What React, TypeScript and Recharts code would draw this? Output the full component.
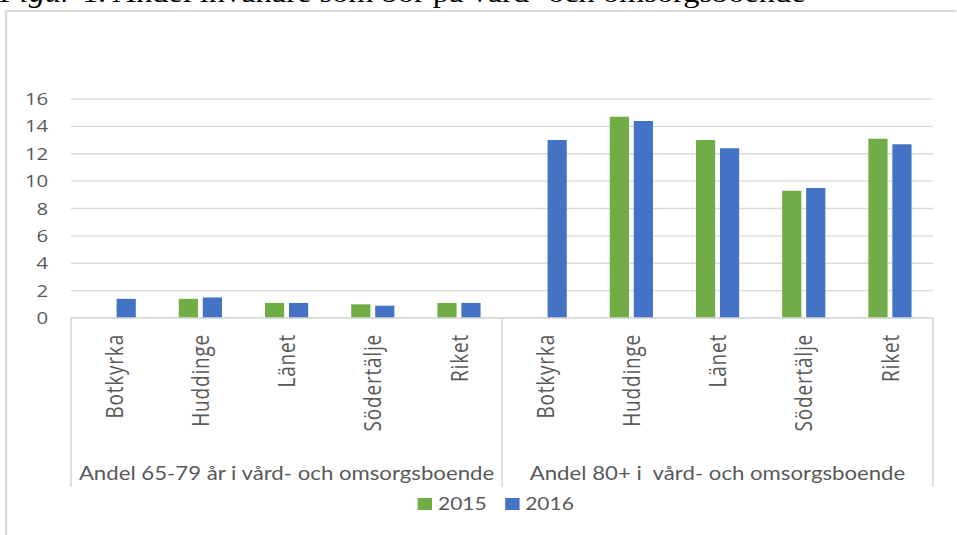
import React from "react";
import { BarChart, Bar, XAxis, YAxis, CartesianGrid, Legend } from "recharts";

// regions per group and the two groups
const categories = ["Botkyrka", "Huddinge", "Länet", "Södertälje", "Riket"];
const groups = [
  "Andel 65-79 år i vård- och omsorgsboende",
  "Andel 80+ i  vård- och omsorgsboende",
];
const values2015 = [null, 1.4, 1.1, 1.0, 1.1, null, 14.7, 13.0, 9.3, 13.1];
const values2016 = [1.4, 1.5, 1.1, 0.9, 1.1, 13.0, 14.4, 12.4, 9.5, 12.7];
const yTicks = [0, 2, 4, 6, 8, 10, 12, 14, 16];

const rows = values2016.map((v, i) => ({
  name: categories[i % categories.length],
  group: groups[Math.floor(i / categories.length)],
  y2015: values2015[i],
  y2016: v,
}));

const GREY = "#595959";
const LINE = "#d9d9d9";
const STRETCH = 1.2;

function CategoryTick(props: any) {
  const { x, y, payload, index } = props;
  const half = payload?.offset ?? 0;
  const n = categories.length;
  const last = rows.length - 1;
  return (
    <g>
      <text
        transform={`translate(${x},${y + 16}) rotate(-90)`}
        textAnchor="end"
        dominantBaseline="central"
        fill={GREY}
        fontSize={19}
        letterSpacing={0.8}
        fontFamily="'Open Sans', sans-serif"
      >
        {payload.value}
      </text>
      {index % n === 0 && (
        <line x1={x - half} x2={x - half} y1={y} y2={y + 169} stroke={LINE} strokeWidth={1.4} />
      )}
      {index === last && (
        <line x1={x + half} x2={x + half} y1={y} y2={y + 169} stroke={LINE} strokeWidth={1.4} />
      )}
      {index % n === Math.floor(n / 2) && (
        <text
          x={x}
          y={y + 155}
          textAnchor="middle"
          dominantBaseline="central"
          fill={GREY}
          fontSize={18.5}
          fontFamily="Lato, sans-serif"
          style={{ whiteSpace: "pre" }}
        >
          {groups[Math.floor(index / n)]}
        </text>
      )}
    </g>
  );
}

const renderLegend = (props: any) => (
  <div style={{ display: "flex", alignItems: "center", gap: 15 }}>
    {(props.payload || []).map((item: any) => (
      <span key={item.value} style={{ display: "flex", alignItems: "center" }}>
        <span style={{ width: 12, height: 12, background: item.color, marginRight: 5, display: "inline-block" }} />
        <span style={{ fontSize: 17.5, fontFamily: "Lato, sans-serif", color: GREY, lineHeight: "20px" }}>
          {item.value}
        </span>
      </span>
    ))}
  </div>
);

export default function App() {
  return (
    <div style={{ position: "fixed", left: 0, top: 0, width: 957, height: 535, overflow: "hidden", background: "#fff" }}>
      <style>{"html,body{margin:0;overflow:hidden}"}</style>
      <div style={{ position: "absolute", left: 0, top: 0, width: 797, height: 535, transform: `scaleX(${STRETCH})`, transformOrigin: "0 0" }}>
        <div
          style={{
            position: "absolute",
            left: 0,
            top: -25,
            fontFamily: "'Liberation Serif', 'Times New Roman', serif",
            fontSize: 27,
            lineHeight: "36px",
            whiteSpace: "nowrap",
            color: "#000",
          }}
        >
          <i>Figur</i> 1. Andel invånare som bor på vård- och omsorgsboende
        </div>
        <div
          style={{
            position: "absolute",
            left: 4,
            top: 10,
            width: 793,
            height: 525,
            borderTop: `2px solid ${LINE}`,
            borderLeft: `2px solid ${LINE}`,
            boxSizing: "border-box",
          }}
        />
        <div style={{ position: "absolute", left: 0, top: 0 }}>
          <BarChart
            width={797}
            height={535}
            data={rows}
            margin={{ top: 99, right: 19.5, left: 19.2, bottom: 48 }}
            barCategoryGap="25%"
            barGap={4}
          >
            <CartesianGrid vertical={false} stroke={LINE} strokeWidth={1.3} />
            <XAxis
              dataKey="name"
              height={169}
              interval={0}
              tickLine={false}
              tickSize={0}
              tickMargin={0}
              axisLine={{ stroke: LINE, strokeWidth: 1.3 }}
              tick={<CategoryTick />}
            />
            <YAxis
              domain={[0, 16]}
              ticks={yTicks}
              width={40}
              axisLine={false}
              tickLine={false}
              tickSize={0}
              tickMargin={19}
              tick={{ fill: GREY, fontSize: 17, fontFamily: "'Open Sans', sans-serif" }}
            />
            <Legend
              layout="horizontal"
              verticalAlign="middle"
              align="center"
              content={renderLegend}
              wrapperStyle={{ left: 348, top: 494, width: 160 }}
            />
            <Bar dataKey="y2015" name="2015" fill="#70ad47" isAnimationActive={false} />
            <Bar dataKey="y2016" name="2016" fill="#4472c4" isAnimationActive={false} />
          </BarChart>
        </div>
      </div>
    </div>
  );
}
